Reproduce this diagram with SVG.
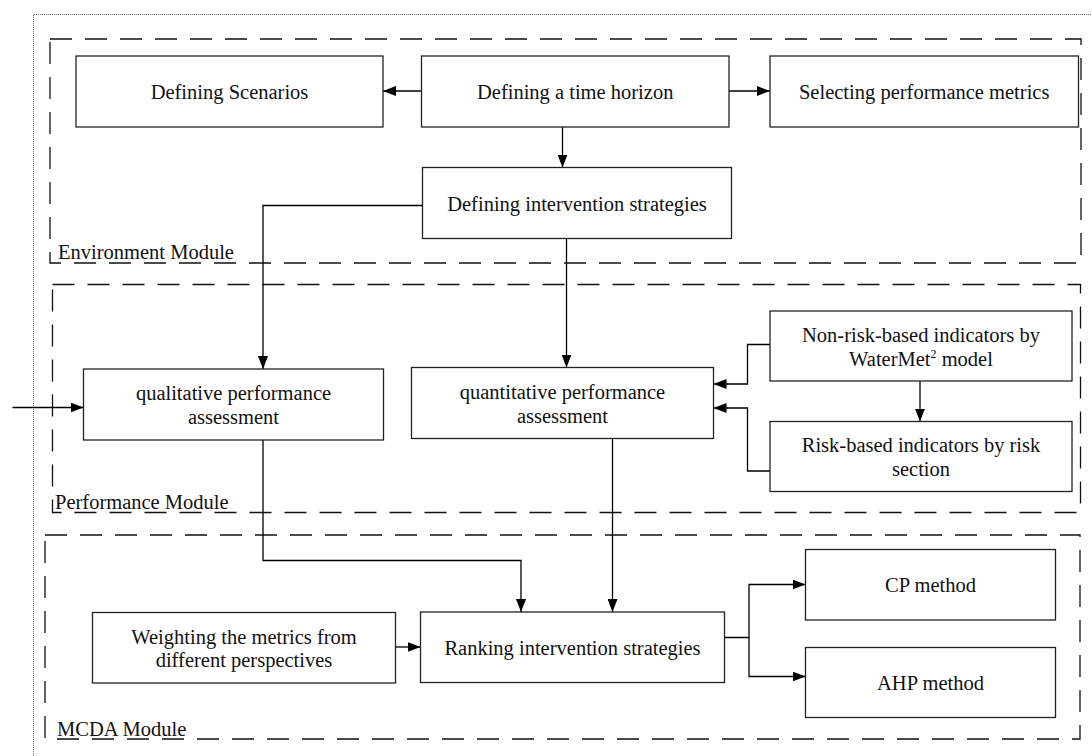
<svg xmlns="http://www.w3.org/2000/svg" width="1092" height="756" viewBox="0 0 1092 756">
<defs>
<marker id="arr" markerUnits="userSpaceOnUse" markerWidth="14" markerHeight="10" refX="13" refY="5" orient="auto">
<path d="M0,0 L13,5 L0,10 z" fill="#000"/>
</marker>
<style>
.box{fill:#fff;stroke:#222;stroke-width:1.3}
.mod{fill:none;stroke:#111;stroke-width:1.3;stroke-dasharray:22 13}
.t{font-family:"Liberation Serif","Times New Roman",serif;font-size:20.5px;fill:#111;text-anchor:middle}
.lbl{font-family:"Liberation Serif","Times New Roman",serif;font-size:20.5px;fill:#111}
.c{fill:none;stroke:#000;stroke-width:1.3}
</style>
</defs>
<rect width="1092" height="756" fill="#fff"/>
<path d="M33.5,756 V14.5 H1091" fill="none" stroke="#444" stroke-width="0.8" stroke-dasharray="1 1"/>

<g id="environment-module">
<rect class="mod" x="50" y="39" width="1031" height="224"/>
<text class="lbl" x="58" y="259">Environment Module</text>
</g>
<g id="performance-module">
<rect class="mod" x="52.5" y="284.5" width="1028" height="228"/>
<text class="lbl" x="55" y="509">Performance Module</text>
</g>
<g id="mcda-module">
<rect class="mod" x="45" y="535" width="1035" height="204"/>
<text class="lbl" x="57" y="736">MCDA Module</text>
</g>

<g id="connectors">
<path class="c" d="M421.5,91 H383" marker-end="url(#arr)"/>
<path class="c" d="M729,91 H770" marker-end="url(#arr)"/>
<path class="c" d="M562.5,127 V167.5" marker-end="url(#arr)"/>
<path class="c" d="M422.5,205.5 H263 V369" marker-end="url(#arr)"/>
<path class="c" d="M566.5,238.5 V367.5" marker-end="url(#arr)"/>
<path class="c" d="M12.5,407.5 H83.5" marker-end="url(#arr)"/>
<path class="c" d="M920,381 V421.5" marker-end="url(#arr)"/>
<path class="c" d="M770,344.5 H747.5 V384 H713.5" marker-end="url(#arr)"/>
<path class="c" d="M770,471 H747.5 V408 H713.5" marker-end="url(#arr)"/>
<path class="c" d="M263,440 V560.5 H521 V612" marker-end="url(#arr)"/>
<path class="c" d="M612.5,438.5 V612" marker-end="url(#arr)"/>
<path class="c" d="M395.5,647 H420.5" marker-end="url(#arr)"/>
<path class="c" d="M724.5,637.5 H749 V584.5 H805.5" marker-end="url(#arr)"/>
<path class="c" d="M749,637.5 V676.5 H805.5" marker-end="url(#arr)"/>
</g>

<g id="defining-scenarios">
<rect class="box" x="76" y="56" width="307" height="71"/>
<text class="t" x="229.5" y="98.5">Defining Scenarios</text>
</g>
<g id="defining-time-horizon">
<rect class="box" x="421.5" y="56" width="307.5" height="71"/>
<text class="t" x="575.2" y="98.5">Defining a time horizon</text>
</g>
<g id="selecting-metrics">
<rect class="box" x="770" y="56" width="308.5" height="71"/>
<text class="t" x="924.2" y="98.5">Selecting performance metrics</text>
</g>
<g id="defining-intervention">
<rect class="box" x="422.5" y="167.5" width="309" height="71"/>
<text class="t" x="577" y="210.5">Defining intervention strategies</text>
</g>
<g id="qualitative">
<rect class="box" x="83.5" y="369" width="300" height="71"/>
<text class="t" x="233.5" y="400">qualitative performance</text>
<text class="t" x="233.5" y="424">assessment</text>
</g>
<g id="quantitative">
<rect class="box" x="411.5" y="367.5" width="302" height="71"/>
<text class="t" x="562.5" y="398.5">quantitative performance</text>
<text class="t" x="562.5" y="422.5">assessment</text>
</g>
<g id="non-risk">
<rect class="box" x="770" y="311" width="302" height="70"/>
<text class="t" x="921" y="341.5">Non-risk-based indicators by</text>
<text class="t" x="921" y="365.5">WaterMet<tspan font-size="12" dy="-8">2</tspan><tspan dy="8"> model</tspan></text>
</g>
<g id="risk">
<rect class="box" x="770" y="421.5" width="302" height="70"/>
<text class="t" x="921" y="452">Risk-based indicators by risk</text>
<text class="t" x="921" y="476">section</text>
</g>
<g id="weighting">
<rect class="box" x="92.5" y="612.5" width="303" height="70.5"/>
<text class="t" x="244" y="643.5">Weighting the metrics from</text>
<text class="t" x="244" y="667">different perspectives</text>
</g>
<g id="ranking">
<rect class="box" x="420.5" y="612" width="304" height="70.5"/>
<text class="t" x="572.5" y="654.5">Ranking intervention strategies</text>
</g>
<g id="cp-method">
<rect class="box" x="805.5" y="549.5" width="250" height="70.5"/>
<text class="t" x="930.5" y="592">CP method</text>
</g>
<g id="ahp-method">
<rect class="box" x="805.5" y="647.5" width="250" height="70"/>
<text class="t" x="930.5" y="690">AHP method</text>
</g>
</svg>
